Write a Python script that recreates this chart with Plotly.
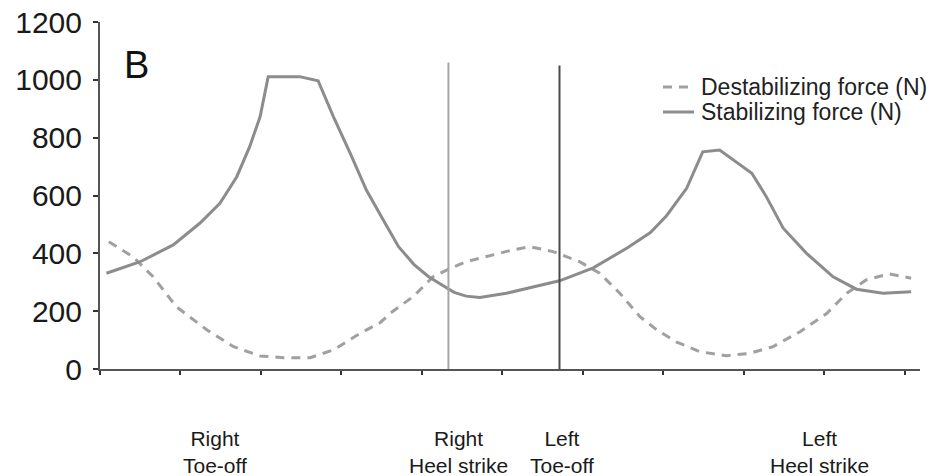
import plotly.graph_objects as go

# ---- data ----
stab_x = [0.8, 5, 9.1, 12.4, 14.9, 17, 18.6, 19.9, 20.9, 24.8, 27.1, 29, 31.1, 33.1, 35.2, 37.1,
          39, 40.8, 42.4, 44, 45.5, 47.2, 50.5, 54, 57.1, 61.3, 65.6, 68.4, 70.4, 72.9, 74.9,
          77, 78.7, 81, 82.8, 84.9, 87.8, 91.1, 94, 97.3, 100.8]
stab_y = [331, 371, 429, 504, 573, 665, 769, 873, 1011, 1011, 997, 873, 746, 619, 515, 423,
          362, 320, 292, 265, 252, 247, 262, 284, 305, 350, 420, 472, 530, 625, 751,
          757, 723, 677, 596, 487, 400, 319, 276, 262, 267]

destab_x = [1.1, 4.1, 6.6, 9.5, 13.3, 16.6, 19.9, 22.8, 26.1, 29, 32.3, 34.8, 36.4, 38.9, 41.4,
            43.5, 45.5, 48, 51.3, 53.4, 56.3, 59.6, 62.1, 64.6, 67.1, 69.2, 71.6, 74.5, 77.8,
            80.7, 83.6, 87, 90.3, 92.8, 95.2, 98.1, 100.8]
destab_y = [440, 388, 319, 215, 135, 77, 45, 39, 39, 66, 123, 160, 200, 250, 319,
            348, 371, 388, 412, 423, 406, 371, 331, 262, 181, 135, 94, 60, 46,
            54, 77, 129, 192, 262, 308, 329, 314]

series_names = ["Destabilizing force (N)", "Stabilizing force (N)"]

event_x = [43.3, 57.1]
event_top = [1060, 1050]
event_colors = ["#a6a6a6", "#4a4a4a"]

phase_x = [14.3, 44.6, 57.4, 89.4]
phase_labels = ["Right<br>Toe-off", "Right<br>Heel strike", "Left<br>Toe-off", "Left<br>Heel strike"]

y_ticks = [0, 200, 400, 600, 800, 1000, 1200]
x_ticks = [0, 10, 20, 30, 40, 50, 60, 70, 80, 90, 100]

FONT = "Liberation Sans, Arial, sans-serif"
DASH_COLOR = "#a0a0a0"
SOLID_COLOR = "#8c8c8c"
DASH = "9px,7px"

# plot area in pixels
W, H = 933, 476
L, R, T, B = 100, 13, 22, 107
PW, PH = W - L - R, H - T - B


def px_to_paper(xp, yp):
    return (xp - L) / PW, (H - B - yp) / PH


fig = go.Figure()
fig.add_trace(go.Scatter(x=destab_x, y=destab_y, mode="lines", name=series_names[0],
                         line=dict(color=DASH_COLOR, width=3, dash=DASH), showlegend=False))
fig.add_trace(go.Scatter(x=stab_x, y=stab_y, mode="lines", name=series_names[1],
                         line=dict(color=SOLID_COLOR, width=3), showlegend=False))

for ex, et, ec in zip(event_x, event_top, event_colors):
    fig.add_shape(type="line", xref="x", yref="y", x0=ex, x1=ex, y0=0, y1=et,
                  line=dict(color=ec, width=2))

# panel letter
fig.add_annotation(x=2.7, y=1050, xref="x", yref="y", text="B", showarrow=False,
                   xanchor="left", yanchor="middle", font=dict(family=FONT, size=38, color="#111"))

# legend (drawn manually to match compact row spacing)
legend_rows = [(87, DASH_COLOR, DASH), (112, SOLID_COLOR, "solid")]
for (ypx, col, dash), name in zip(legend_rows, series_names):
    x0, y0 = px_to_paper(663, ypx)
    x1, _ = px_to_paper(694, ypx)
    fig.add_shape(type="line", xref="paper", yref="paper", x0=x0, x1=x1, y0=y0, y1=y0,
                  line=dict(color=col, width=3, dash=dash))
    tx, ty = px_to_paper(699, ypx)
    fig.add_annotation(x=tx, y=ty, xref="paper", yref="paper", text=name, showarrow=False,
                       xanchor="left", yanchor="middle",
                       font=dict(family=FONT, size=23, color="#222"))

# gait phase labels
for px_, lab in zip(phase_x, phase_labels):
    fig.add_annotation(x=px_, y=-0.16, xref="x", yref="paper", text=lab, showarrow=False,
                       xanchor="center", yanchor="top",
                       font=dict(family=FONT, size=21, color="#1a1a1a"))

fig.update_layout(
    width=W, height=H,
    margin=dict(l=L, r=R, t=T, b=B),
    paper_bgcolor="white", plot_bgcolor="white",
    showlegend=False,
)
fig.update_xaxes(range=[0, 101.9], tickvals=x_ticks, showticklabels=False, ticks="outside",
                 ticklen=4, tickwidth=2, tickcolor="#333", showline=True, linecolor="#555",
                 linewidth=2, showgrid=False, zeroline=False, fixedrange=True, automargin=False)
fig.update_yaxes(range=[0, 1200], tickvals=y_ticks, ticks="outside", ticklen=5, tickwidth=2,
                 tickcolor="#333", showline=True, linecolor="#555", linewidth=2,
                 showgrid=False, zeroline=False, ticklabelstandoff=5, automargin=False,
                 fixedrange=True, tickfont=dict(family=FONT, size=30, color="#1a1a1a"))

fig.write_html("out.html", config={"displayModeBar": False},
               post_script="document.body.style.margin='0';document.body.style.overflow='hidden';")
